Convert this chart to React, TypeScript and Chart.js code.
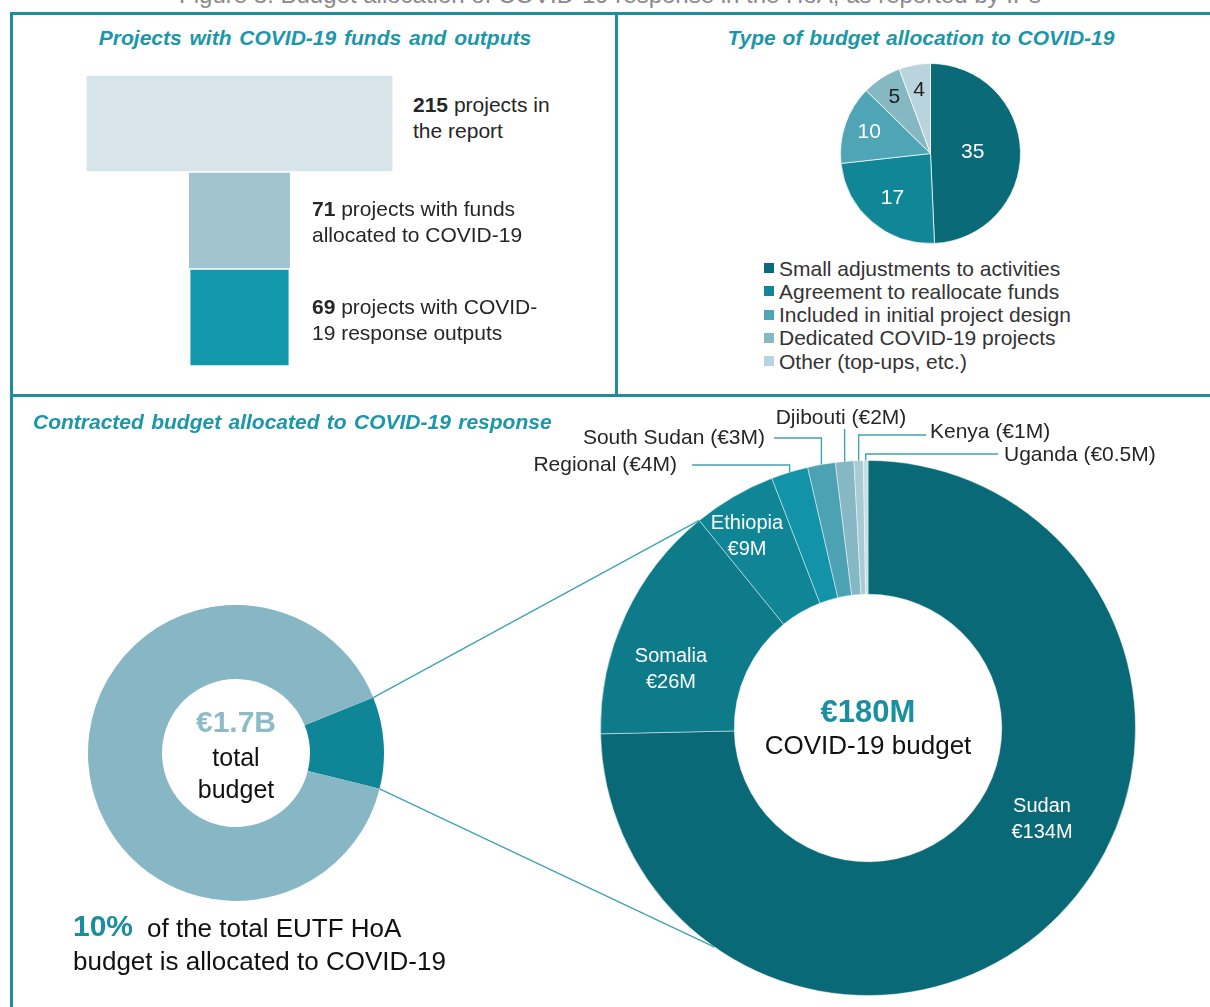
import React, { useEffect, useRef } from "react";
import { Chart, registerables } from "chart.js";

Chart.register(...registerables);

const FONT = '"Liberation Sans", Arial, Helvetica, sans-serif';
const TEAL_TITLE = "#1b97aa";
const BORDER_TEAL = "#1f8d9d";
const LINE_TEAL = "#3ea2b2";
const TEXT_DARK = "#262626";
const PANEL_TOP = 396;

const figureTitle = "Figure 8: Budget allocation of COVID-19 response in the HoA, as reported by IPs";

// Panel 1 – funnel
const funnelCategories = ["projects in the report", "projects with funds allocated to COVID-19", "projects with COVID-19 response outputs"];
const funnelValues = [215, 71, 69];
const funnelColors = ["#d7e5ea", "#a1c4cf", "#1298ab"];

// Panel 2 – pie
const allocLabels = [
  "Small adjustments to activities",
  "Agreement to reallocate funds",
  "Included in initial project design",
  "Dedicated COVID-19 projects",
  "Other (top-ups, etc.)",
];
const allocValues = [35, 17, 10, 5, 4];
const allocColors = ["#0b6a78", "#118697", "#4fa5b5", "#86b8c4", "#b9d4dc"];
const allocLabelColors = ["#ffffff", "#ffffff", "#ffffff", "#1e1e1e", "#1e1e1e"];

// Panel 3 – total budget donut (share, %)
const totalLabels = ["COVID-19", "Rest of EUTF HoA budget"];
const totalValues = [10, 90];
const totalColors = ["#0f8697", "#87b7c4"];

// Panel 3 – COVID-19 budget by country (€M)
const countryLabels = ["Sudan", "Somalia", "Ethiopia", "Regional", "South Sudan", "Djibouti", "Kenya", "Uganda"];
const countryValues = [134, 26, 9, 4, 3, 2, 1, 0.5];
const countryColors = ["#0a6977", "#0e7b8a", "#0f8595", "#1293a7", "#4ca2b2", "#85b8c4", "#a8cbd4", "#c6dee4"];

// layout of annotations (page coordinates)
const pieLabelRadius = [0.47, 0.65, 0.72, 0.74, 0.72];
const extLabelLayout = [
  { idx: 3, tx: 677, ty: 465, align: "right", elbowY: 465, endX: 692 },
  { idx: 4, tx: 765, ty: 438, align: "right", elbowY: 438, endX: 774 },
  { idx: 5, tx: 841, ty: 418, align: "center", elbowY: 429, endX: null },
  { idx: 6, tx: 930, ty: 432, align: "left", elbowY: 435, endX: 926 },
  { idx: 7, tx: 1004, ty: 455, align: "left", elbowY: 454, endX: 998 },
];
const innerLabelLayout = [
  { idx: 0, x: 1042, y: 805 },
  { idx: 1, x: 671, y: 655 },
  { idx: 2, x: 747, y: 522 },
];
const connectorLowerAngleDeg = 125;

type TProps = {
  x: number;
  y: number;
  size?: number;
  align?: "left" | "center" | "right";
  bold?: boolean;
  italic?: boolean;
  color?: string;
  lh?: number;
  ws?: number;
  children: React.ReactNode;
};

function T({ x, y, size = 21, align = "left", bold, italic, color = TEXT_DARK, lh, ws = 0, children }: TProps) {
  const lineH = lh ?? Math.round(size * 1.2);
  const tx = align === "center" ? "-50%" : align === "right" ? "-100%" : "0";
  return (
    <div
      style={{
        position: "absolute",
        left: x,
        top: y - lineH / 2,
        fontFamily: FONT,
        fontSize: size,
        fontWeight: bold ? 700 : 400,
        fontStyle: italic ? "italic" : "normal",
        color,
        lineHeight: `${lineH}px`,
        whiteSpace: "pre",
        transform: `translateX(${tx})`,
        textAlign: align,
        wordSpacing: ws,
        zIndex: 5,
      }}
    >
      {children}
    </div>
  );
}

function Rule({ x, y, w, h }: { x: number; y: number; w: number; h: number }) {
  return <div style={{ position: "absolute", left: x, top: y, width: w, height: h, background: BORDER_TEAL, zIndex: 6 }} />;
}

export default function App() {
  const funnelRef = useRef<HTMLCanvasElement>(null);
  const pieRef = useRef<HTMLCanvasElement>(null);
  const smallRef = useRef<HTMLCanvasElement>(null);
  const bigRef = useRef<HTMLCanvasElement>(null);

  useEffect(() => {
    const charts: Chart[] = [];

    // Funnel (floating horizontal bars centred on 0)
    charts.push(
      new Chart(funnelRef.current!, {
        type: "bar",
        data: {
          labels: funnelCategories,
          datasets: [
            {
              data: funnelValues.map((v) => [-v / 2, v / 2]) as any,
              backgroundColor: funnelColors,
              borderWidth: 0,
              barPercentage: 0.985,
              categoryPercentage: 1,
            },
          ],
        },
        options: {
          indexAxis: "y",
          responsive: false,
          maintainAspectRatio: false,
          animation: false,
          layout: { padding: 0 },
          plugins: { legend: { display: false }, tooltip: { enabled: false } },
          scales: {
            x: { display: false, min: -110, max: 110 },
            y: { display: false },
          },
        },
      })
    );

    // Pie
    const pieLabelPlugin = {
      id: "pieLabels",
      afterDatasetsDraw(chart: any) {
        const ctx = chart.ctx;
        const arcs = chart.getDatasetMeta(0).data;
        ctx.save();
        ctx.font = `21px ${FONT}`;
        ctx.textAlign = "center";
        ctx.textBaseline = "middle";
        arcs.forEach((a: any, i: number) => {
          const mid = (a.startAngle + a.endAngle) / 2;
          const r = a.outerRadius * pieLabelRadius[i];
          ctx.fillStyle = allocLabelColors[i];
          ctx.fillText(String(allocValues[i]), a.x + r * Math.cos(mid), a.y + r * Math.sin(mid));
        });
        ctx.restore();
      },
    };
    charts.push(
      new Chart(pieRef.current!, {
        type: "pie",
        data: {
          labels: allocLabels,
          datasets: [{ data: allocValues, backgroundColor: allocColors, borderColor: "rgba(255,255,255,0.7)", borderWidth: 1 }],
        },
        options: {
          responsive: false,
          maintainAspectRatio: false,
          animation: false,
          layout: { padding: 0 },
          plugins: { legend: { display: false }, tooltip: { enabled: false } },
        },
        plugins: [pieLabelPlugin],
      })
    );

    // Small donut (total budget)
    const small = new Chart(smallRef.current!, {
      type: "doughnut",
      data: {
        labels: totalLabels,
        datasets: [{ data: totalValues, backgroundColor: totalColors, borderWidth: 0 }],
      },
      options: {
        responsive: false,
        maintainAspectRatio: false,
        animation: false,
        cutout: "50%",
        rotation: 68,
        layout: { padding: 0 },
        plugins: { legend: { display: false }, tooltip: { enabled: false } },
      },
    });
    charts.push(small);
    const SMALL_LEFT = 88;
    const SMALL_TOP = 605;

    // Big donut (COVID budget by country)
    const bigPlugin = {
      id: "bigAnnotations",
      afterDatasetsDraw(chart: any) {
        const ctx = chart.ctx;
        const arcs = chart.getDatasetMeta(0).data;
        ctx.save();
        ctx.strokeStyle = LINE_TEAL;
        ctx.lineWidth = 1.4;
        ctx.font = `21px ${FONT}`;
        ctx.fillStyle = TEXT_DARK;
        ctx.textBaseline = "middle";
        extLabelLayout.forEach((l) => {
          const a = arcs[l.idx];
          const mid = (a.startAngle + a.endAngle) / 2;
          const x0 = a.x + a.outerRadius * Math.cos(mid);
          const y0 = a.y + a.outerRadius * Math.sin(mid);
          const ey = l.elbowY - PANEL_TOP;
          ctx.beginPath();
          ctx.moveTo(x0, y0);
          ctx.lineTo(x0, ey);
          if (l.endX != null) ctx.lineTo(l.endX, ey);
          ctx.stroke();
          ctx.textAlign = l.align;
          ctx.fillText(`${countryLabels[l.idx]} (€${countryValues[l.idx]}M)`, l.tx, l.ty - PANEL_TOP);
        });

        // connectors from the small donut's COVID-19 wedge to the big donut
        const sa = small.getDatasetMeta(0).data[0] as any;
        if (sa) {
          const sx = sa.x + SMALL_LEFT;
          const sy = sa.y + SMALL_TOP - PANEL_TOP;
          const R = sa.outerRadius;
          const up = { x: sx + R * Math.cos(sa.startAngle), y: sy + R * Math.sin(sa.startAngle) };
          const lo = { x: sx + R * Math.cos(sa.endAngle), y: sy + R * Math.sin(sa.endAngle) };
          const b = arcs[1];
          const ang1 = b.endAngle;
          const ang2 = (connectorLowerAngleDeg * Math.PI) / 180;
          ctx.lineWidth = 1.3;
          ctx.beginPath();
          ctx.moveTo(up.x, up.y);
          ctx.lineTo(b.x + b.outerRadius * Math.cos(ang1), b.y + b.outerRadius * Math.sin(ang1));
          ctx.moveTo(lo.x, lo.y);
          ctx.lineTo(b.x + b.outerRadius * Math.cos(ang2), b.y + b.outerRadius * Math.sin(ang2));
          ctx.stroke();
        }
        ctx.restore();
      },
    };
    charts.push(
      new Chart(bigRef.current!, {
        type: "doughnut",
        data: {
          labels: countryLabels,
          datasets: [{ data: countryValues, backgroundColor: countryColors, borderColor: "rgba(255,255,255,0.45)", borderWidth: 1 }],
        },
        options: {
          responsive: false,
          maintainAspectRatio: false,
          animation: false,
          cutout: "50%",
          layout: { padding: { left: 600, right: 74, top: 64, bottom: 11 } },
          plugins: { legend: { display: false }, tooltip: { enabled: false } },
        },
        plugins: [bigPlugin],
      })
    );

    return () => charts.forEach((c) => c.destroy());
  }, []);

  return (
    <div style={{ position: "absolute", left: 0, top: 0, width: 1210, height: 1007, overflow: "hidden", background: "#fff" }}>
      {/* figure title (cut at top) */}
      <T x={610} y={-6} size={24} align="center" color="#8a8a8a">{figureTitle}</T>

      {/* frame */}
      <Rule x={10} y={12} w={1200} h={3} />
      <Rule x={10} y={12} w={3} h={995} />
      <Rule x={615} y={12} w={3} h={384} />
      <Rule x={10} y={394} w={1200} h={3} />

      {/* Panel 1 */}
      <T x={315} y={37} align="center" bold italic color={TEAL_TITLE} ws={2}>Projects with COVID-19 funds and outputs</T>
      <canvas ref={funnelRef} width={313} height={291} style={{ position: "absolute", left: 83, top: 75 }} />
      <T x={413} y={105} lh={26}>
        <b>{funnelValues[0]}</b>{" projects in\nthe report"}
      </T>
      <T x={312} y={209} lh={26}>
        <b>{funnelValues[1]}</b>{" projects with funds\nallocated to COVID-19"}
      </T>
      <T x={312} y={307} lh={26}>
        <b>{funnelValues[2]}</b>{" projects with COVID-\n19 response outputs"}
      </T>

      {/* Panel 2 */}
      <T x={921} y={37} align="center" bold italic color={TEAL_TITLE} ws={1}>Type of budget allocation to COVID-19</T>
      <canvas ref={pieRef} width={181} height={181} style={{ position: "absolute", left: 840, top: 63 }} />
      {allocLabels.map((l, i) => (
        <React.Fragment key={l}>
          <div style={{ position: "absolute", left: 764, top: 268 + i * 23.3 - 5, width: 10, height: 10, background: allocColors[i] }} />
          <T x={779} y={268 + i * 23.3} color="#333">{l}</T>
        </React.Fragment>
      ))}

      {/* Panel 3 */}
      <T x={33} y={421} bold italic color={TEAL_TITLE} ws={1.5}>Contracted budget allocated to COVID-19 response</T>
      <canvas ref={smallRef} width={296} height={296} style={{ position: "absolute", left: 88, top: 605, zIndex: 1 }} />
      <canvas ref={bigRef} width={1210} height={611} style={{ position: "absolute", left: 0, top: PANEL_TOP, zIndex: 2 }} />

      <T x={236} y={722} size={30} bold align="center" color="#8dbcc8">€1.7B</T>
      <T x={236} y={757} size={25} align="center" color="#111">total</T>
      <T x={236} y={789} size={25} align="center" color="#111">budget</T>

      <T x={73} y={926} size={30} bold color="#1a8d9f">{`${totalValues[0]}%`}</T>
      <T x={147} y={928} size={26} color="#111">of the total EUTF HoA</T>
      <T x={73} y={961} size={26} color="#111">budget is allocated to COVID-19</T>

      <T x={868} y={711} size={31} bold align="center" color="#1a8fa1">€180M</T>
      <T x={868} y={745} size={26} align="center" color="#111">COVID-19 budget</T>

      {innerLabelLayout.map((l) => (
        <T key={l.idx} x={l.x} y={l.y} size={20} align="center" color="#ffffff" lh={26}>
          {`${countryLabels[l.idx]}\n€${countryValues[l.idx]}M`}
        </T>
      ))}
    </div>
  );
}
